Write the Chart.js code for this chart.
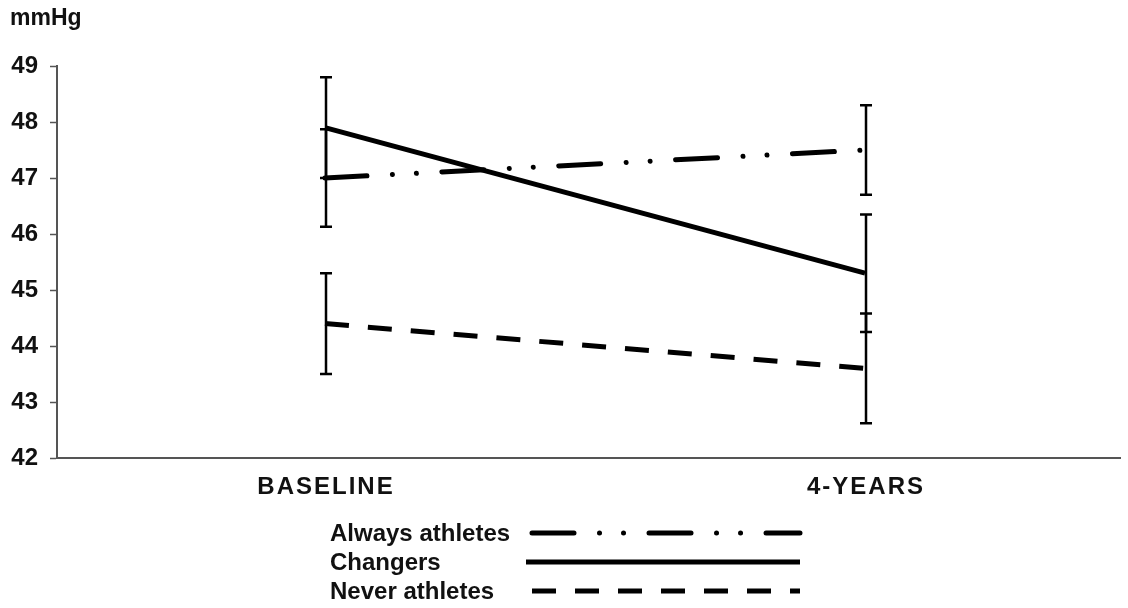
<!DOCTYPE html>
<html>
<head>
<meta charset="utf-8">
<script src="https://cdn.jsdelivr.net/npm/chart.js@4.4.1/dist/chart.umd.min.js"></script>
<style>
  html, body { margin:0; padding:0; background:#fff; }
  #wrap { position:relative; width:1128px; height:608px; font-family:"Liberation Sans", Arial, sans-serif; }
  #c { position:absolute; left:0; top:0; }
  #unit { position:absolute; left:10px; top:4px; font-weight:bold; font-size:23px; color:#111; }
  #legend { position:absolute; left:330px; top:518px; }
  .row { display:flex; align-items:center; height:29px; }
  .row span { font-weight:bold; font-size:24px; color:#111; width:196px; white-space:nowrap; }
</style>
</head>
<body>
<div id="wrap">
  <canvas id="c" width="1128" height="608"></canvas>
  <div id="unit">mmHg</div>
  <div id="legend"></div>
</div>
<script>
const categories = ['BASELINE', '4-YEARS'];
const yTicks = [42, 43, 44, 45, 46, 47, 48, 49];
const seriesNames = ['Always athletes', 'Changers', 'Never athletes'];
const alwaysMeans = [47.0, 47.5];
const alwaysErr = [0.87, 0.8];
const changersMeans = [47.9, 45.3];
const changersErr = [0.9, 1.05];
const neverMeans = [44.4, 43.6];
const neverErr = [0.9, 0.98];

const dashAlways = [42, 25.5, 0.01, 24, 0.01, 25.5];
const dashNever = [24, 19];
const dashChangers = [];

function pts(arr) { return arr.map((v, i) => ({ x: i, y: v })); }

const datasets = [
  { label: seriesNames[0], data: pts(alwaysMeans), err: alwaysErr, borderColor: '#000', borderWidth: 5,
    borderDash: dashAlways, borderCapStyle: 'round', pointRadius: 0, fill: false },
  { label: seriesNames[1], data: pts(changersMeans), err: changersErr, borderColor: '#000', borderWidth: 5,
    borderDash: dashChangers, borderCapStyle: 'butt', pointRadius: 0, fill: false },
  { label: seriesNames[2], data: pts(neverMeans), err: neverErr, borderColor: '#000', borderWidth: 5,
    borderDash: dashNever, borderCapStyle: 'butt', pointRadius: 0, fill: false }
];

const errorBars = {
  id: 'errorBars',
  afterDatasetsDraw(chart) {
    const ctx = chart.ctx, xs = chart.scales.x, ys = chart.scales.y;
    ctx.save();
    ctx.strokeStyle = '#000';
    ctx.lineWidth = 2.5;
    ctx.setLineDash([]);
    chart.data.datasets.forEach(ds => {
      ds.data.forEach((p, i) => {
        const x = xs.getPixelForValue(p.x) + 1;
        const yt = ys.getPixelForValue(p.y + ds.err[i]);
        const yb = ys.getPixelForValue(p.y - ds.err[i]);
        ctx.beginPath();
        ctx.moveTo(x, yt); ctx.lineTo(x, yb);
        ctx.moveTo(x - 6, yt); ctx.lineTo(x + 6, yt);
        ctx.moveTo(x - 6, yb); ctx.lineTo(x + 6, yb);
        ctx.stroke();
      });
    });
    ctx.restore();
  }
};

const xLabels = {
  id: 'xLabels',
  afterDraw(chart) {
    const ctx = chart.ctx, xs = chart.scales.x;
    ctx.save();
    ctx.font = 'bold 24px "Liberation Sans", Arial, sans-serif';
    ctx.fillStyle = '#111';
    ctx.textAlign = 'center';
    ctx.textBaseline = 'middle';
    if ('letterSpacing' in ctx) ctx.letterSpacing = '2px';
    categories.forEach((c, i) => {
      ctx.fillText(c, xs.getPixelForValue(i) + 1, 487);
    });
    ctx.restore();
  }
};

new Chart(document.getElementById('c'), {
  type: 'line',
  data: { datasets },
  options: {
    responsive: false,
    animation: false,
    layout: { padding: { top: 66, right: 8, left: 0, bottom: 0 } },
    plugins: { legend: { display: false }, tooltip: { enabled: false } },
    scales: {
      x: {
        type: 'linear', min: -0.4963, max: 1.4722,
        afterFit(s) { s.height = 150; },
        ticks: { display: false },
        grid: { drawOnChartArea: false, drawTicks: false },
        border: { color: '#555', width: 2 }
      },
      y: {
        min: 42, max: 49,
        afterBuildTicks(s) { s.ticks = yTicks.map(v => ({ value: v })); },
        afterFit(s) { s.width = 57; },
        ticks: { color: '#111', font: { family: '"Liberation Sans", Arial, sans-serif', size: 24, weight: 'bold' }, padding: 12 },
        grid: { drawOnChartArea: false, drawTicks: true, tickLength: 7, color: '#555', tickWidth: 1.5 },
        border: { color: '#555', width: 2 }
      }
    }
  },
  plugins: [errorBars, xLabels]
});

// HTML legend
const legend = document.getElementById('legend');
const dashes = [dashAlways, dashChangers, dashNever];
const caps = ['round', 'butt', 'butt'];
seriesNames.forEach((n, i) => {
  const row = document.createElement('div');
  row.className = 'row';
  const sp = document.createElement('span');
  sp.textContent = n;
  row.appendChild(sp);
  const svgNS = 'http://www.w3.org/2000/svg';
  const svg = document.createElementNS(svgNS, 'svg');
  svg.setAttribute('width', '280'); svg.setAttribute('height', '12');
  const ln = document.createElementNS(svgNS, 'line');
  const x1 = i === 1 ? 0 : 6;
  ln.setAttribute('x1', x1); ln.setAttribute('x2', 274);
  ln.setAttribute('y1', 6); ln.setAttribute('y2', 6);
  ln.setAttribute('stroke', '#000'); ln.setAttribute('stroke-width', 5);
  ln.setAttribute('stroke-linecap', caps[i]);
  if (dashes[i].length) ln.setAttribute('stroke-dasharray', dashes[i].join(' '));
  svg.appendChild(ln);
  row.appendChild(svg);
  legend.appendChild(row);
});
</script>
</body>
</html>
